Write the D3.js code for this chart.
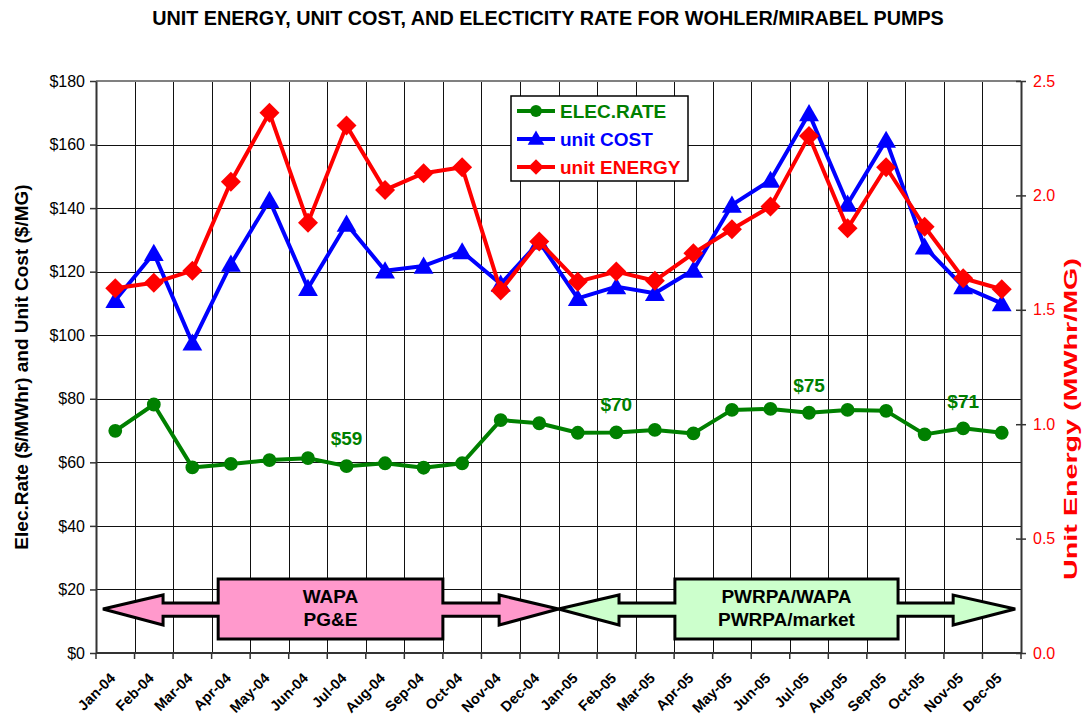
<!DOCTYPE html>
<html>
<head>
<meta charset="utf-8">
<script src="https://cdn.jsdelivr.net/npm/d3@7"></script>
<style>
  body { margin: 0; background: #fff; }
  text { font-family: "Liberation Sans", Arial, sans-serif; }
</style>
</head>
<body>
<div id="chart"></div>
<script>
// Monthly values
const months = [
  "Jan-04", "Feb-04", "Mar-04", "Apr-04", "May-04", "Jun-04",
  "Jul-04", "Aug-04", "Sep-04", "Oct-04", "Nov-04", "Dec-04",
  "Jan-05", "Feb-05", "Mar-05", "Apr-05", "May-05", "Jun-05",
  "Jul-05", "Aug-05", "Sep-05", "Oct-05", "Nov-05", "Dec-05"
]
const elecRate = [
  69.9, 78.2, 58.4, 59.5, 60.7, 61.3, 58.8, 59.7, 58.3, 59.7, 73.3, 72.3,
  69.3, 69.4, 70.2, 69.1, 76.5, 76.8, 75.6, 76.5, 76.2, 68.8, 70.7, 69.3
]
const unitCost = [
  111.0, 125.8, 97.6, 122.4, 142.5, 114.8, 135.0, 120.3, 121.8, 126.3, 116.1, 129.4,
  111.6, 115.3, 113.2, 120.5, 141.0, 148.8, 169.8, 141.3, 161.4, 127.8, 115.3, 110.0
]
const unitEnergy = [
  1.594, 1.618, 1.671, 2.060, 2.361, 1.881, 2.305, 2.024, 2.097, 2.123, 1.584, 1.798,
  1.623, 1.667, 1.627, 1.747, 1.852, 1.951, 2.260, 1.856, 2.123, 1.863, 1.638, 1.590
]
const leftTicks = [0, 20, 40, 60, 80, 100, 120, 140, 160, 180]
const rightTicks = [0, 0.5, 1.0, 1.5, 2.0, 2.5]

// Rate call-outs (month, $ level of the text baseline)
const rateLabels = [
  { text: "$59", month: "Jul-04", level: 65.5 },
  { text: "$70", month: "Feb-05", level: 76.1 },
  { text: "$75", month: "Jul-05", level: 82.1 },
  { text: "$71", month: "Nov-05", level: 77.2 }
]

// Supplier period arrows: extents in month units, text lines
const periods = [
  { lines: ["WAPA", "PG&E"], fill: "#ff99cc",
    tipL: 0.18, headL: 1.74, boxL: 3.17, boxR: 9.0, headR: 10.46, tipR: 12 },
  { lines: ["PWRPA/WAPA", "PWRPA/market"], fill: "#ccffcc",
    tipL: 12, headL: 13.57, boxL: 15.02, boxR: 20.81, headR: 22.24, tipR: 23.85 }
]

const series = [
  { name: "ELEC.RATE", values: elecRate, color: "#008000", marker: "circle", axis: "left" },
  { name: "unit COST", values: unitCost, color: "#0000ff", marker: "triangle", axis: "left" },
  { name: "unit ENERGY", values: unitEnergy, color: "#ff0000", marker: "diamond", axis: "right" }
]

const width = 1085
const height = 717
const margin = { top: 81, right: 64, bottom: 64, left: 96 }
const plotW = width - margin.left - margin.right
const plotH = height - margin.top - margin.bottom

const svg = d3.select("#chart").append("svg")
  .attr("width", width)
  .attr("height", height)
  .style("background", "#fff")

const g = svg.append("g").attr("transform", `translate(${margin.left},${margin.top})`)

const x = d3.scaleBand().domain(months).range([0, plotW]).padding(0)
const xPos = d3.scaleLinear().domain([0, months.length]).range([0, plotW])
const yLeft = d3.scaleLinear().domain([0, 180]).range([plotH, 0])
const yRight = d3.scaleLinear().domain([0, 2.5]).range([plotH, 0])
const cx = m => x(m) + x.bandwidth() / 2

// Grid
g.append("g").selectAll("line").data(leftTicks).join("line")
  .attr("x1", 0).attr("x2", plotW)
  .attr("y1", d => Math.round(yLeft(d)) + 0.5).attr("y2", d => Math.round(yLeft(d)) + 0.5)
  .attr("stroke", "#111").attr("stroke-width", 1)
g.append("g").selectAll("line").data(d3.range(months.length + 1)).join("line")
  .attr("x1", d => Math.round(xPos(d)) + 0.5).attr("x2", d => Math.round(xPos(d)) + 0.5)
  .attr("y1", 0).attr("y2", plotH)
  .attr("stroke", "#111").attr("stroke-width", 1)

// Frame
g.append("line").attr("x1", 0).attr("x2", plotW).attr("y1", 0).attr("y2", 0)
  .attr("stroke", "#808080").attr("stroke-width", 2)

// Left axis
const leftAxis = g.append("g")
  .call(d3.axisLeft(yLeft).tickValues(leftTicks).tickFormat(d => "$" + d).tickSize(6).tickSizeOuter(0))
leftAxis.select(".domain").attr("stroke", "#333").attr("stroke-width", 2)
leftAxis.selectAll(".tick line").attr("stroke", "#333").attr("stroke-width", 1.5)
leftAxis.selectAll(".tick text").attr("font-size", 16).attr("fill", "#000").attr("x", -11)

// Right axis
const rightAxis = g.append("g").attr("transform", `translate(${plotW},0)`)
  .call(d3.axisRight(yRight).tickValues(rightTicks).tickFormat(d3.format(".1f")).tickSize(5).tickSizeOuter(0))
rightAxis.select(".domain").attr("stroke", "#333").attr("stroke-width", 2)
rightAxis.selectAll(".tick line").attr("stroke", "#333").attr("stroke-width", 1.5).attr("x1", -5)
rightAxis.selectAll(".tick text").attr("font-size", 16).attr("fill", "#ff0000").attr("x", 12)

// Bottom axis: ticks on category boundaries, labels at category centres
const bottom = g.append("g").attr("transform", `translate(0,${plotH})`)
bottom.append("line").attr("x1", 0).attr("x2", plotW).attr("stroke", "#333").attr("stroke-width", 2)
bottom.selectAll(".btick").data(d3.range(months.length + 1)).join("line")
  .attr("class", "btick")
  .attr("x1", d => xPos(d)).attr("x2", d => xPos(d))
  .attr("y1", 0).attr("y2", 6)
  .attr("stroke", "#333").attr("stroke-width", 1.5)
bottom.selectAll(".blabel").data(months).join("text")
  .attr("class", "blabel")
  .attr("transform", d => `translate(${cx(d) + 1},26) rotate(-45)`)
  .attr("text-anchor", "end")
  .attr("font-size", 14.5)
  .attr("font-weight", "bold")
  .text(d => d)

// Period arrows
periods.forEach(p => {
  const yTip = yLeft(13.85)
  const headT = yLeft(18.25), headB = yLeft(8.8)
  const shaftT = yLeft(15.7), shaftB = yLeft(11.6)
  const boxT = yLeft(23.3), boxB = yLeft(4.4)
  const pts = [
    [xPos(p.tipL), yTip], [xPos(p.headL), headT], [xPos(p.headL), shaftT],
    [xPos(p.boxL), shaftT], [xPos(p.boxL), boxT], [xPos(p.boxR), boxT],
    [xPos(p.boxR), shaftT], [xPos(p.headR), shaftT], [xPos(p.headR), headT],
    [xPos(p.tipR), yTip], [xPos(p.headR), headB], [xPos(p.headR), shaftB],
    [xPos(p.boxR), shaftB], [xPos(p.boxR), boxB], [xPos(p.boxL), boxB],
    [xPos(p.boxL), shaftB], [xPos(p.headL), shaftB], [xPos(p.headL), headB]
  ]
  g.append("path")
    .attr("d", d3.line()(pts) + "Z")
    .attr("fill", p.fill)
    .attr("stroke", "#000")
    .attr("stroke-width", 3)
    .attr("stroke-linejoin", "miter")
  const mid = (xPos(p.boxL) + xPos(p.boxR)) / 2
  p.lines.forEach((t, i) => {
    g.append("text")
      .attr("x", mid)
      .attr("y", yLeft(15.8) + i * 23)
      .attr("text-anchor", "middle")
      .attr("font-size", 19)
      .attr("font-weight", "bold")
      .text(t)
  })
})

// Marker shapes
const symbolFor = {
  circle: d3.symbol().type(d3.symbolCircle).size(150),
  triangle: d3.symbol().type(d3.symbolTriangle).size(170),
  diamond: d3.symbol().type(d3.symbolSquare).size(200)
}
const markerRotate = { circle: 0, triangle: 0, diamond: 45 }

// Series lines and markers
series.forEach(s => {
  const yScale = s.axis === "left" ? yLeft : yRight
  const pts = months.map((m, i) => [cx(m), yScale(s.values[i])])
  g.append("path")
    .attr("d", d3.line()(pts))
    .attr("fill", "none")
    .attr("stroke", s.color)
    .attr("stroke-width", 4)
    .attr("stroke-linejoin", "round")
  g.append("g").selectAll("path").data(pts).join("path")
    .attr("transform", d => `translate(${d[0]},${d[1] + (s.marker === "triangle" ? 2 : 0)}) rotate(${markerRotate[s.marker]})`)
    .attr("d", symbolFor[s.marker]())
    .attr("fill", s.color)
})

// Rate call-outs
g.selectAll(".rate").data(rateLabels).join("text")
  .attr("class", "rate")
  .attr("x", d => cx(d.month))
  .attr("y", d => yLeft(d.level))
  .attr("text-anchor", "middle")
  .attr("font-size", 19)
  .attr("font-weight", "bold")
  .attr("fill", "#008000")
  .text(d => d.text)

// Legend
const legend = svg.append("g").attr("transform", "translate(511,96)")
legend.append("rect")
  .attr("width", 177).attr("height", 85)
  .attr("fill", "#fff").attr("stroke", "#000").attr("stroke-width", 1.5)
series.forEach((s, i) => {
  const row = legend.append("g").attr("transform", `translate(0,${15 + i * 28})`)
  row.append("line").attr("x1", 6).attr("x2", 44).attr("y1", 0).attr("y2", 0)
    .attr("stroke", s.color).attr("stroke-width", 4)
  row.append("path")
    .attr("transform", `translate(25,${s.marker === "triangle" ? 1 : 0}) rotate(${markerRotate[s.marker]})`)
    .attr("d", d3.symbol().type(s.marker === "circle" ? d3.symbolCircle : s.marker === "triangle" ? d3.symbolTriangle : d3.symbolSquare).size(s.marker === "circle" ? 110 : 120)())
    .attr("fill", s.color)
  row.append("text")
    .attr("x", 49).attr("y", 7)
    .attr("font-size", 19).attr("font-weight", "bold")
    .attr("fill", s.color)
    .text(s.name)
})

// Title and axis titles
svg.append("text")
  .attr("x", 548).attr("y", 25)
  .attr("text-anchor", "middle")
  .attr("font-size", 19.8).attr("font-weight", "bold")
  .text("UNIT ENERGY, UNIT COST, AND ELECTICITY RATE FOR WOHLER/MIRABEL PUMPS")

svg.append("text")
  .attr("transform", "translate(28,367) rotate(-90)")
  .attr("text-anchor", "middle")
  .attr("font-size", 19).attr("font-weight", "bold")
  .text("Elec.Rate ($/MWhr) and Unit Cost ($/MG)")

svg.append("text")
  .attr("transform", "translate(1077,419) rotate(-90)")
  .attr("text-anchor", "middle")
  .attr("font-size", 18).attr("font-weight", "bold")
  .attr("fill", "#ff0000")
  .attr("textLength", 322)
  .attr("lengthAdjust", "spacingAndGlyphs")
  .text("Unit Energy (MWhr/MG)")
</script>
</body>
</html>
